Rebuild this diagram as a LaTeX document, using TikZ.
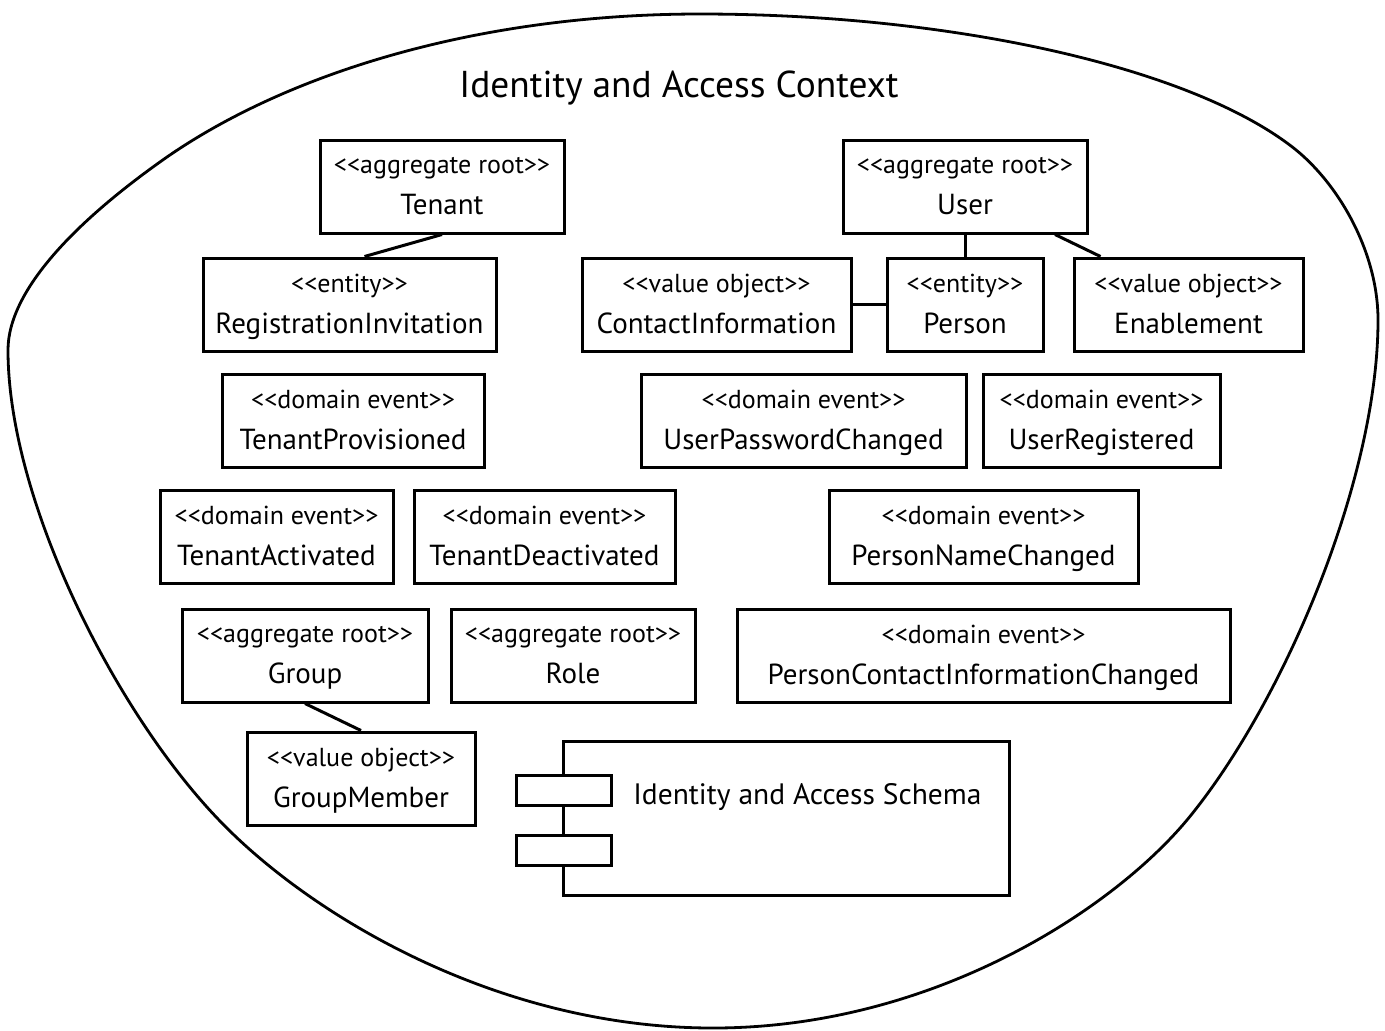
\documentclass[tikz,border=0pt]{standalone}
\usepackage{fontspec}
\setmainfont{PT Sans}[Ligatures=TeXOff]
\usetikzlibrary{positioning}
\newcommand{\stereo}[1]{{\fontsize{13}{15}\selectfont<{}<#1>{}>}}

\begin{document}
\begin{tikzpicture}[
    x=0.5pt, y=-0.5pt,
    box/.style={rectangle, draw, line width=1.5pt,
                minimum height=46.5pt, inner sep=0pt, align=center,
                text depth=1pt,
                font=\fontsize{14.5}{20.5}\selectfont},
    port/.style={rectangle, draw, line width=1.5pt, fill=white,
                 minimum width=47.5pt, minimum height=15pt, inner sep=0pt},
    link/.style={line width=1.5pt},
    context/.style={line width=1.4pt},
  ]
    \useasboundingbox (0,0) rectangle (1385,1030);

    % bounded context outline
    \draw[context] (700,14) .. controls (950,14) and (1182,66) .. (1287,143)
      .. controls (1336,178) and (1378,250) .. (1378,320)
      .. controls (1378,480) and (1283,704) .. (1187,820)
      .. controls (1110,912) and (930,1028) .. (713,1028)
      .. controls (496,1028) and (309,914) .. (219,820)
      .. controls (115,712) and (8,500) .. (8,350)
      .. controls (8,290) and (77,220) .. (167,157)
      .. controls (290,72) and (480,14) .. (700,14) -- cycle;

    \node[font=\fontsize{18.7}{22}\selectfont] (title) at (679,88)
      {Identity and Access Context};

    % aggregates and their parts
    \node[box, minimum width=122pt] (tenant) at (442,186.5)
      {\stereo{aggregate root}\\ Tenant};
    \node[box, minimum width=122pt] (user) at (965,186.5)
      {\stereo{aggregate root}\\ User};
    \node[box, minimum width=146.5pt] (invitation) at (349.5,304.5)
      {\stereo{entity}\\ RegistrationInvitation};
    \node[box, minimum width=134.5pt] (contact) at (716.5,304.5)
      {\stereo{value object}\\ ContactInformation};
    \node[box, minimum width=78pt] (person) at (965,304.5)
      {\stereo{entity}\\ Person};
    \node[box, minimum width=114.5pt] (enablement) at (1188.5,304.5)
      {\stereo{value object}\\ Enablement};

    % domain events
    \node[box, minimum width=131pt] (provisioned) at (353,420.5)
      {\stereo{domain event}\\ TenantProvisioned};
    \node[box, minimum width=162.5pt] (pwchanged) at (803.5,420.5)
      {\stereo{domain event}\\ UserPasswordChanged};
    \node[box, minimum width=118.5pt] (registered) at (1101.5,420.5)
      {\stereo{domain event}\\ UserRegistered};
    \node[box, minimum width=116.5pt] (activated) at (276.5,536.5)
      {\stereo{domain event}\\ TenantActivated};
    \node[box, minimum width=130.5pt] (deactivated) at (544.5,536.5)
      {\stereo{domain event}\\ TenantDeactivated};
    \node[box, minimum width=154.5pt] (namechanged) at (983.5,536.5)
      {\stereo{domain event}\\ PersonNameChanged};

    \node[box, minimum width=123pt] (group) at (305,655.5)
      {\stereo{aggregate root}\\ Group};
    \node[box, minimum width=122pt] (role) at (573,655.5)
      {\stereo{aggregate root}\\ Role};
    \node[box, minimum width=246.5pt] (contactchanged) at (983.5,655.5)
      {\stereo{domain event}\\ PersonContactInformationChanged};
    \node[box, minimum width=114pt] (member) at (361,778.5)
      {\stereo{value object}\\ GroupMember};

    % schema component
    \node[box, minimum width=223pt, minimum height=77pt] (schema) at (786,818) {};
    \node[port] (port1) at (563.5,790) {};
    \node[port, below=13.5pt of port1] (port2) {};
    \node[anchor=west, inner sep=0pt, font=\fontsize{14.75}{17}\selectfont]
      (schemaname) at (633,797) {Identity and Access Schema};

    \draw[link] (tenant.south) -- ([xshift=7.5pt]invitation.north);
    \draw[link] (user.south) -- (person.north);
    \draw[link] ([xshift=45pt]user.south) -- ([xshift=-44pt]enablement.north);
    \draw[link] (contact.east) -- (person.west);
    \draw[link] (group.south) -- (member.north);
\end{tikzpicture}
\end{document}
